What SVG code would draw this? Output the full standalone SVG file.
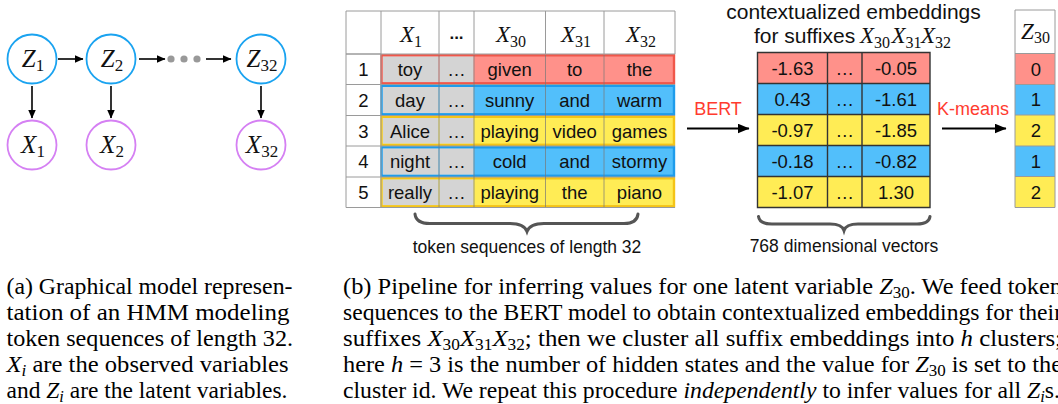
<svg xmlns="http://www.w3.org/2000/svg" width="1058" height="404" viewBox="0 0 1058 404">
<defs>
<marker id="ah" markerWidth="9" markerHeight="8" refX="8.5" refY="4" orient="auto" markerUnits="userSpaceOnUse"><path d="M0,0 L9,4 L0,8 z" fill="#000"/></marker>
<marker id="ahb" markerWidth="12" markerHeight="10" refX="11.5" refY="5" orient="auto" markerUnits="userSpaceOnUse"><path d="M0,0 L12,5 L0,10 z" fill="#000"/></marker>
<style>
.zc{fill:#fff;stroke:#1AA3F0;stroke-width:1.8}
.xc{fill:#fff;stroke:#D580F3;stroke-width:1.8}
.lbl{font-family:"Liberation Serif","Times New Roman",serif;font-style:italic;font-size:25px;text-anchor:middle;fill:#111}
.sub{font-style:normal;font-size:17px}
.hsub{font-style:normal;font-size:16px}
.edge{stroke:#000;stroke-width:1.6;fill:none;marker-end:url(#ah)}
.bedge{stroke:#000;stroke-width:1.8;fill:none;marker-end:url(#ahb)}
.grid{stroke:#9a9a9a;stroke-width:1;fill:none}
.vl{stroke:#777;stroke-width:1;stroke-opacity:0.7}
.cell{font-family:"Liberation Sans",Arial,sans-serif;font-size:18.5px;text-anchor:middle;fill:#111}
.hx{font-family:"Liberation Serif","Times New Roman",serif;font-style:italic;font-size:23px;text-anchor:middle;fill:#111}
.hxs{font-family:"Liberation Serif","Times New Roman",serif;font-style:italic;font-size:23px;text-anchor:start;fill:#111}
.red{fill:#FF918A;stroke:#F0574A;stroke-width:2.4}
.blue{fill:#52BFFB;stroke:#1E9CEB;stroke-width:2.4}
.yel{fill:#FFEC55;stroke:#F4C417;stroke-width:2.4}
.fr{fill:#FF918A}.fb{fill:#52BFFB}.fy{fill:#FFEC55}
.gray{fill:#D4D4D4}
.lab{font-family:"Liberation Sans",Arial,sans-serif;font-size:17.5px;text-anchor:middle;fill:#111}
.title{font-family:"Liberation Sans",Arial,sans-serif;font-size:21px;fill:#111}
.redlab{font-family:"Liberation Sans",Arial,sans-serif;font-size:18px;text-anchor:middle;fill:#FF3B2F}
.brace{stroke:#555;stroke-width:3;fill:none;stroke-linecap:round}
.cap{font-family:"Liberation Serif","Times New Roman",serif;font-size:23px;fill:#000}
.it{font-style:italic}
.cs{font-size:16px}
</style>
</defs>

<!-- (a) graphical model -->
<g id="connectors">
<line class="edge" x1="58" y1="59" x2="83" y2="59"/>
<line class="edge" x1="139" y1="59" x2="165" y2="59"/>
<line class="edge" x1="206" y1="59" x2="231" y2="59"/>
<line class="edge" x1="32" y1="86" x2="32" y2="118"/>
<line class="edge" x1="111" y1="86" x2="111" y2="118"/>
<line class="edge" x1="261" y1="86" x2="261" y2="118"/>
</g>
<g id="dots" fill="#999">
<circle cx="171" cy="59" r="3.6"/><circle cx="184" cy="59" r="3.6"/><circle cx="197" cy="59" r="3.6"/>
</g>
<g id="z1"><circle class="zc" cx="32" cy="59" r="24.5"/><text class="lbl" x="33" y="66.5">Z<tspan class="sub" dy="4.5">1</tspan></text></g>
<g id="z2"><circle class="zc" cx="111" cy="59" r="24.5"/><text class="lbl" x="112" y="66.5">Z<tspan class="sub" dy="4.5">2</tspan></text></g>
<g id="z32"><circle class="zc" cx="261" cy="59" r="24.5"/><text class="lbl" x="262" y="66.5">Z<tspan class="sub" dy="4.5">32</tspan></text></g>
<g id="x1"><circle class="xc" cx="32" cy="145" r="24.5"/><text class="lbl" x="33" y="152.5">X<tspan class="sub" dy="4.5">1</tspan></text></g>
<g id="x2"><circle class="xc" cx="111" cy="145" r="24.5"/><text class="lbl" x="112" y="152.5">X<tspan class="sub" dy="4.5">2</tspan></text></g>
<g id="x32"><circle class="xc" cx="261" cy="145" r="24.5"/><text class="lbl" x="262" y="152.5">X<tspan class="sub" dy="4.5">32</tspan></text></g>

<!-- token table -->
<g id="token-table">
<rect x="346" y="11" width="329" height="196.5" fill="#fff"/>
<rect class="red" x="381.5" y="55.3" width="292.5" height="28"/>
<rect class="blue" x="381.5" y="85.8" width="292.5" height="28.5"/>
<rect class="yel" x="381.5" y="116.8" width="292.5" height="28"/>
<rect class="blue" x="381.5" y="147.3" width="292.5" height="28.5"/>
<rect class="yel" x="381.5" y="178.3" width="292.5" height="28"/>
<g class="gray">
<rect x="382.8" y="56.5" width="55.7" height="25.6"/><rect x="439.5" y="56.5" width="34" height="25.6"/>
<rect x="382.8" y="87" width="55.7" height="26.1"/><rect x="439.5" y="87" width="34" height="26.1"/>
<rect x="382.8" y="118" width="55.7" height="25.6"/><rect x="439.5" y="118" width="34" height="25.6"/>
<rect x="382.8" y="148.5" width="55.7" height="26.1"/><rect x="439.5" y="148.5" width="34" height="26.1"/>
<rect x="382.8" y="179.5" width="55.7" height="25.6"/><rect x="439.5" y="179.5" width="34" height="25.6"/>
</g>
<path class="grid" d="M346,11 H675 M346,11 V207.5 M675,11 V54 M381,11 V207.5 M439,11 V54 M474,11 V54 M545.5,11 V54 M604,11 V54 M346,54 H381 M346,84.5 H381 M346,115.5 H381 M346,146 H381 M346,177 H381 M346,207.5 H675 M346,54 H675 M381,84.5 H675 M381,115.5 H675 M381,146 H675 M381,177 H675"/>
<path class="vl" d="M439,55 V207 M474,55 V207 M545.5,55 V207 M604,55 V207"/>
<text class="hx" x="411" y="42">X<tspan class="hsub" dy="5">1</tspan></text>
<text x="456.5" y="39" font-family="Liberation Sans, Arial, sans-serif" font-weight="bold" font-size="17" text-anchor="middle" fill="#111">...</text>
<text class="hx" x="511" y="42">X<tspan class="hsub" dy="5">30</tspan></text>
<text class="hx" x="576" y="42">X<tspan class="hsub" dy="5">31</tspan></text>
<text class="hx" x="641" y="42">X<tspan class="hsub" dy="5">32</tspan></text>
<g class="cell">
<text x="363.5" y="76">1</text><text x="410" y="76">toy</text><text x="456.5" y="76">…</text><text x="509.7" y="76">given</text><text x="574.7" y="76">to</text><text x="639.5" y="76">the</text>
<text x="363.5" y="106.8">2</text><text x="410" y="106.8">day</text><text x="456.5" y="106.8">…</text><text x="509.7" y="106.8">sunny</text><text x="574.7" y="106.8">and</text><text x="639.5" y="106.8">warm</text>
<text x="363.5" y="137.5">3</text><text x="410" y="137.5">Alice</text><text x="456.5" y="137.5">…</text><text x="509.7" y="137.5">playing</text><text x="574.7" y="137.5">video</text><text x="639.5" y="137.5">games</text>
<text x="363.5" y="168.3">4</text><text x="410" y="168.3">night</text><text x="456.5" y="168.3">…</text><text x="509.7" y="168.3">cold</text><text x="574.7" y="168.3">and</text><text x="639.5" y="168.3">stormy</text>
<text x="363.5" y="199">5</text><text x="410" y="199">really</text><text x="456.5" y="199">…</text><text x="509.7" y="199">playing</text><text x="574.7" y="199">the</text><text x="639.5" y="199">piano</text>
</g>
</g>
<g id="token-brace">
<path class="brace" d="M415,214 Q416,223.5 430,223.5 L510,223.5 Q524,223.5 527,231.5 Q530,223.5 544,223.5 L624,223.5 Q637,223.5 638,214"/>
<text class="lab" x="527" y="253">token sequences of length 32</text>
</g>

<!-- BERT arrow -->
<g id="bert">
<line class="bedge" x1="687" y1="128.5" x2="749" y2="128.5"/>
<text class="redlab" x="718" y="115">BERT</text>
</g>

<!-- embeddings -->
<g id="embeddings">
<text class="title" x="853.5" y="18.5" text-anchor="middle">contextualized embeddings</text>
<text class="title" x="754" y="43">for suffixes</text>
<text class="hxs" x="860" y="43">X<tspan class="hsub" dy="5">30</tspan></text>
<text class="hxs" x="891.5" y="43">X<tspan class="hsub" dy="5">31</tspan></text>
<text class="hxs" x="921" y="43">X<tspan class="hsub" dy="5">32</tspan></text>
<rect class="fr" x="757.5" y="52.5" width="172.5" height="31"/>
<rect class="fb" x="757.5" y="83.5" width="172.5" height="31"/>
<rect class="fy" x="757.5" y="114.5" width="172.5" height="31"/>
<rect class="fb" x="757.5" y="145.5" width="172.5" height="31"/>
<rect class="fy" x="757.5" y="176.5" width="172.5" height="31"/>
<path d="M757.5,52.5 H930 V207.5 H757.5 Z M757.5,83.5 H930 M757.5,114.5 H930 M757.5,145.5 H930 M757.5,176.5 H930 M827.5,52.5 V207.5 M862,52.5 V207.5" fill="none" stroke="#333" stroke-width="1.4"/>
<g class="cell">
<text x="792.5" y="74.6">-1.63</text><text x="844.7" y="74.6">…</text><text x="896" y="74.6">-0.05</text>
<text x="792.5" y="105.6">0.43</text><text x="844.7" y="105.6">…</text><text x="896" y="105.6">-1.61</text>
<text x="792.5" y="136.6">-0.97</text><text x="844.7" y="136.6">…</text><text x="896" y="136.6">-1.85</text>
<text x="792.5" y="167.6">-0.18</text><text x="844.7" y="167.6">…</text><text x="896" y="167.6">-0.82</text>
<text x="792.5" y="198.6">-1.07</text><text x="844.7" y="198.6">…</text><text x="896" y="198.6">1.30</text>
</g>
</g>
<g id="emb-brace">
<path class="brace" d="M758.5,216.5 Q759.5,224 772,224 L830,224 Q842,224 844,230.5 Q846,224 858,224 L917,224 Q929,224 930,216.5"/>
<text class="lab" x="844" y="251.5">768 dimensional vectors</text>
</g>

<!-- K-means arrow -->
<g id="kmeans">
<line class="bedge" x1="942" y1="128.5" x2="1006" y2="128.5"/>
<text class="redlab" x="973" y="115">K-means</text>
</g>

<!-- Z30 column -->
<g id="z30-column">
<rect x="1015" y="10" width="40" height="43.5" fill="#fff"/>
<rect class="fr" x="1015" y="53.5" width="40" height="31"/>
<rect class="fb" x="1015" y="84.5" width="40" height="30.5"/>
<rect class="fy" x="1015" y="115" width="40" height="31"/>
<rect class="fb" x="1015" y="146" width="40" height="30.5"/>
<rect class="fy" x="1015" y="176.5" width="40" height="31"/>
<path class="grid" d="M1015,10 H1055 V207.5 H1015 Z M1015,53.5 H1055 M1015,84.5 H1055 M1015,115 H1055 M1015,146 H1055 M1015,176.5 H1055"/>
<text class="hx" x="1035.5" y="39">Z<tspan class="hsub" dy="4">30</tspan></text>
<g class="cell">
<text x="1036" y="75.6">0</text><text x="1036" y="106.3">1</text><text x="1036" y="137">2</text><text x="1036" y="167.8">1</text><text x="1036" y="198.6">2</text>
</g>
</g>

<!-- captions -->
<g id="caption-a" class="cap">
<text x="6.5" y="294" textLength="286" lengthAdjust="spacingAndGlyphs">(a) Graphical model represen-</text>
<text x="6.5" y="320" textLength="283" lengthAdjust="spacingAndGlyphs">tation of an HMM modeling</text>
<text x="6.5" y="346" textLength="286.5" lengthAdjust="spacingAndGlyphs">token sequences of length 32.</text>
<text x="6.5" y="372" textLength="282" lengthAdjust="spacingAndGlyphs"><tspan class="it">X</tspan><tspan class="it cs" dy="4">i</tspan><tspan dy="-4"> are the observed variables</tspan></text>
<text x="6.5" y="397.5" textLength="281" lengthAdjust="spacingAndGlyphs">and <tspan class="it">Z</tspan><tspan class="it cs" dy="4">i</tspan><tspan dy="-4"> are the latent variables.</tspan></text>
</g>
<g id="caption-b" class="cap">
<text x="343" y="294" textLength="719" lengthAdjust="spacingAndGlyphs">(b) Pipeline for inferring values for one latent variable <tspan class="it">Z</tspan><tspan class="cs" dy="4">30</tspan><tspan dy="-4">. We feed token</tspan></text>
<text x="343" y="320" textLength="719" lengthAdjust="spacingAndGlyphs">sequences to the BERT model to obtain contextualized embeddings for their</text>
<text x="343" y="346" textLength="719" lengthAdjust="spacingAndGlyphs">suffixes <tspan class="it">X</tspan><tspan class="cs" dy="4">30</tspan><tspan class="it" dy="-4">X</tspan><tspan class="cs" dy="4">31</tspan><tspan class="it" dy="-4">X</tspan><tspan class="cs" dy="4">32</tspan><tspan dy="-4">; then we cluster all suffix embeddings into </tspan><tspan class="it">h</tspan> clusters;</text>
<text x="343" y="372" textLength="719" lengthAdjust="spacingAndGlyphs">here <tspan class="it">h</tspan> = 3 is the number of hidden states and the value for <tspan class="it">Z</tspan><tspan class="cs" dy="4">30</tspan><tspan dy="-4"> is set to the</tspan></text>
<text x="343" y="397.5" textLength="717" lengthAdjust="spacingAndGlyphs">cluster id. We repeat this procedure <tspan class="it">independently</tspan> to infer values for all <tspan class="it">Z</tspan><tspan class="it cs" dy="4">i</tspan><tspan dy="-4">s.</tspan></text>
</g>
</svg>
